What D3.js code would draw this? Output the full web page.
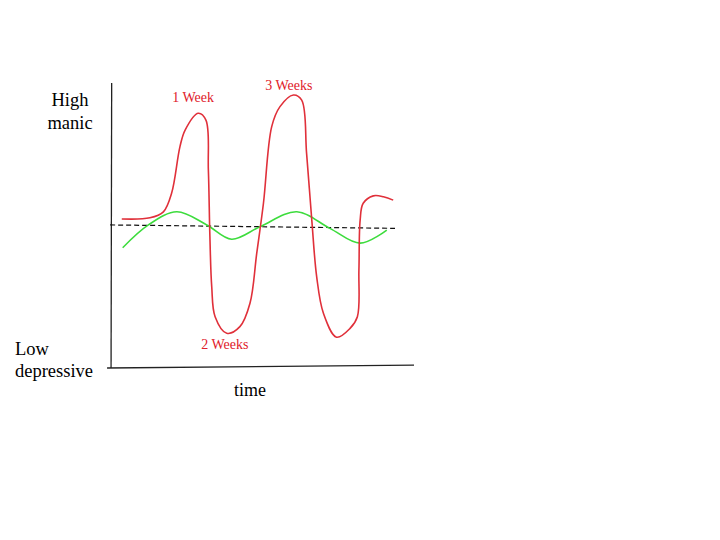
<!DOCTYPE html>
<html>
<head>
<meta charset="utf-8">
<script src="https://cdn.jsdelivr.net/npm/d3@7"></script>
<style>
  body { margin: 0; background: #fff; }
  text { font-family: "Liberation Serif", "DejaVu Serif", serif; }
</style>
</head>
<body>
<svg id="chart" width="720" height="540"></svg>
<script>
// Layout
let width = 720, height = 540;

// Data (time 0-100, mood 0 = low depressive, 100 = high manic)
let redTime = [4.5, 13.7, 18.1, 20.8, 23.5, 25.2, 29.5, 32.0, 32.8, 33.3, 33.9, 35.0, 38.8, 43.1, 46.4, 48.6, 50.8, 53.5, 56.2, 60.6, 63.3, 64.9, 66.6, 68.2, 70.4, 74.7, 79.1, 81.5, 82.0, 82.4, 83.4, 86.7, 90.0, 93.2];
let redMood = [52.3, 52.7, 54.8, 61.4, 77.6, 83.5, 89.4, 87.0, 69.5, 46.1, 28.5, 18.0, 12.2, 14.5, 22.7, 40.2, 57.8, 84.7, 91.7, 95.8, 94.0, 75.3, 51.9, 32.0, 19.2, 10.8, 13.9, 18.0, 34.4, 51.9, 57.8, 60.4, 60.1, 58.9];
let greenTime = [4.8, 13.2, 22.5, 32.3, 40.4, 49.7, 61.7, 72.5, 82.4, 91.1];
let greenMood = [42.2, 50.2, 54.8, 50.2, 45.2, 49.6, 54.8, 49.0, 43.8, 48.4];
let baseTime = [0.7, 93.8];
let baseMood = [50.2, 49.0];

let peakLabels = ["1 Week", "2 Weeks", "3 Weeks"];
let peakTime = [27.8, 38.2, 59.1];
let peakMood = [93.5, 6.5, 97.5];
let highLabel = ["High", "manic"];
let lowLabel = ["Low", "depressive"];
let xLabel = "time";

let svg = d3.select("#chart");

// Scales
let x = d3.scaleLinear().domain([0, 100]).range([108, 414]);
let y = d3.scaleLinear().domain([0, 100]).range([368, 83]);

let line = d3.line()
    .x(d => x(d[0]))
    .y(d => y(d[1]))
    .curve(d3.curveCatmullRom.alpha(0.5));

// Axes (plain lines, no ticks)
svg.append("line")
    .attr("x1", x(1)).attr("y1", y(0))
    .attr("x2", x(1.2)).attr("y2", y(100))
    .attr("stroke", "#222").attr("stroke-width", 1.3);
svg.append("line")
    .attr("x1", x(-0.3)).attr("y1", y(0))
    .attr("x2", x(100)).attr("y2", y(1))
    .attr("stroke", "#222").attr("stroke-width", 1.3);

// Baseline (dashed)
svg.append("path")
    .datum(d3.zip(baseTime, baseMood))
    .attr("d", d3.line().x(d => x(d[0])).y(d => y(d[1])))
    .attr("fill", "none")
    .attr("stroke", "#111")
    .attr("stroke-width", 1.2)
    .attr("stroke-dasharray", "5,3");

// Green (stable) curve
svg.append("path")
    .datum(d3.zip(greenTime, greenMood))
    .attr("d", line)
    .attr("fill", "none")
    .attr("stroke", "#3ddc3d")
    .attr("stroke-width", 1.6);

// Red (bipolar) curve
svg.append("path")
    .datum(d3.zip(redTime, redMood))
    .attr("d", line)
    .attr("fill", "none")
    .attr("stroke", "#e0303a")
    .attr("stroke-width", 1.6);

// Peak labels
svg.selectAll("text.peak")
    .data(peakLabels)
    .enter().append("text")
    .attr("class", "peak")
    .attr("x", (d, i) => x(peakTime[i]))
    .attr("y", (d, i) => y(peakMood[i]))
    .attr("text-anchor", "middle")
    .attr("font-size", "14px")
    .attr("fill", "#e0202a")
    .text(d => d);

// Y labels
svg.selectAll("text.high")
    .data(highLabel)
    .enter().append("text")
    .attr("class", "high")
    .attr("x", 70)
    .attr("y", (d, i) => 106 + i * 23)
    .attr("text-anchor", "middle")
    .attr("font-size", "18.5px")
    .text(d => d);

svg.selectAll("text.low")
    .data(lowLabel)
    .enter().append("text")
    .attr("class", "low")
    .attr("x", 15)
    .attr("y", (d, i) => 355 + i * 22)
    .attr("font-size", "18.5px")
    .text(d => d);

// X label
svg.append("text")
    .attr("x", 250)
    .attr("y", 396)
    .attr("text-anchor", "middle")
    .attr("font-size", "18px")
    .text(xLabel);
</script>
</body>
</html>
